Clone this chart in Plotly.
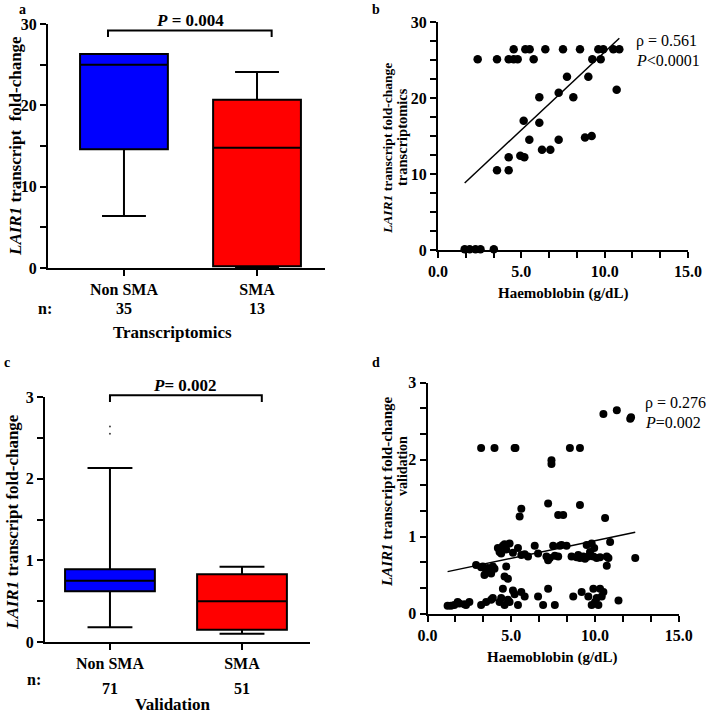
import plotly.graph_objects as go
import numpy as np

# ---------------- DATA ----------------
categories = ["Non SMA", "SMA"]

# Panel a: transcriptomics box summary
a_q1 = [14.6, 0.2]
a_median = [25.0, 14.8]
a_q3 = [26.3, 20.7]
a_lower = [6.4, 0.0]
a_upper = [26.3, 24.1]
a_n = ["35", "13"]
a_p_text = "<b><i>P</i> = 0.004</b>"

# Panel b: transcriptomics vs haemoglobin
b_hb = [4.54, 5.24, 5.5, 6.44, 7.5, 8.52, 9.62, 9.92, 10.52, 10.88,
        2.38, 3.54, 4.24, 4.54, 4.78, 5.74, 9.26, 9.76,
        7.74, 9.02, 7.24, 6.08, 8.12, 10.72, 5.14, 6.08, 5.48, 7.24,
        8.82, 9.22, 6.24, 6.74, 4.94, 5.18, 4.24, 3.54, 4.24,
        1.6, 1.9, 2.25, 2.55, 3.35]
b_fc = [26.4, 26.4, 26.4, 26.4, 26.4, 26.4, 26.4, 26.4, 26.4, 26.4,
        25.1, 25.1, 25.1, 25.1, 25.1, 25.1, 25.1, 25.1,
        22.8, 22.8, 20.7, 20.1, 20.1, 21.1, 17.0, 16.75, 14.5, 14.5,
        14.8, 15.0, 13.2, 13.2, 12.4, 12.2, 12.2, 10.5, 10.5,
        0.1, 0.1, 0.1, 0.1, 0.1]
b_fit_slope, b_fit_intercept = 2.051, 5.54
b_rho_text = "ρ = 0.561"
b_p_text = "<i>P</i><0.0001"

# Panel c: validation box summary
c_q1 = [0.62, 0.15]
c_median = [0.75, 0.50]
c_q3 = [0.89, 0.83]
c_lower = [0.18, 0.10]
c_upper = [2.13, 0.92]
c_outlier_y = [2.64, 2.55]
c_n = ["71", "51"]
c_p_text = "<b><i>P</i>= 0.002</b>"

# Panel d: validation vs haemoglobin
d_hb = [10.5, 11.3, 12.1, 12.15,
        3.2, 4.0, 5.2, 5.25, 8.5, 9.1,
        7.4, 7.4, 7.2, 9.1, 5.6, 5.5, 7.8, 8.1, 10.6,
        4.2, 4.5, 4.9, 4.4, 4.7, 5.4, 5.6, 6.0, 6.4, 7.1, 7.5, 7.8, 7.2, 8.0,
        4.3, 4.6, 5.1, 5.8, 6.6, 7.3, 7.6,
        2.9, 3.3, 3.6, 3.9, 3.4, 3.8, 4.7, 4.6, 3.5, 3.7, 4.8, 3.2, 4.0,
        1.2, 1.4, 1.6, 1.9, 2.3, 2.5, 2.2, 3.2, 3.5, 3.8, 4.3, 4.5, 4.6, 4.4,
        4.8, 5.1, 5.4, 5.6, 5.8, 6.6, 7.2, 6.9, 7.6, 4.9, 3.9, 1.8, 5.2,
        8.3, 7.9, 9.5, 9.8, 9.7, 9.9, 8.9, 9.1, 9.4, 10.1, 10.7, 10.8, 10.7,
        10.9, 9.3, 9.6, 9.0, 10.3, 12.4, 9.95, 8.6,
        8.7, 9.2, 9.6, 9.9, 10.3, 10.1, 10.5, 9.8, 10.2, 11.4, 10.0, 10.4]
d_fc = [2.59, 2.64, 2.53, 2.55,
        2.15, 2.15, 2.15, 2.15, 2.15, 2.15,
        1.99, 1.94, 1.43, 1.41, 1.36, 1.26, 1.28, 1.28, 1.24,
        0.85, 0.88, 0.91, 0.78, 0.83, 0.85, 0.76, 0.74, 0.88, 0.74, 0.88, 0.74, 0.69, 0.89,
        0.80, 0.90, 0.79, 0.77, 0.78, 0.72, 0.75,
        0.63, 0.61, 0.59, 0.61, 0.50, 0.52, 0.61, 0.48, 0.56, 0.54, 0.45, 0.60, 0.58,
        0.10, 0.10, 0.11, 0.13, 0.11, 0.15, 0.12, 0.11, 0.15, 0.18, 0.15, 0.32, 0.11, 0.20,
        0.18, 0.30, 0.11, 0.28, 0.22, 0.22, 0.32, 0.11, 0.11, 0.15, 0.20, 0.15, 0.25,
        0.88, 0.88, 0.89, 0.91, 0.80, 0.74, 0.73, 0.72, 0.71, 0.72, 0.74, 0.72, 0.62,
        0.93, 0.74, 0.74, 0.76, 0.73, 0.72, 0.85, 0.74,
        0.22, 0.28, 0.22, 0.32, 0.32, 0.20, 0.28, 0.11, 0.11, 0.17, 0.15, 0.22]
d_fit_slope, d_fit_intercept = 0.0457, 0.489
d_rho_text = "ρ = 0.276"
d_p_text = "<i>P</i>=0.002"

# axis ticks (major labels, minor subdivisions)
a_yticks, a_yminor = [0, 10, 20, 30], 2
b_xticks, b_xminor = [0, 5, 10, 15], 3
b_yticks, b_yminor = [0, 10, 20, 30], 4
c_yticks, c_yminor = [0, 1, 2, 3], 2
d_xticks, d_xminor = [0, 5, 10, 15], 3
d_yticks, d_yminor = [0, 1, 2, 3], 3

# ---------------- LAYOUT GEOMETRY (pixels) ----------------
W, H = 708, 713
SERIF = "Liberation Serif"
A = dict(x0=48, x1=325, y0=268, y1=24, xr=[-0.571, 1.511], yr=[0, 30])
B = dict(x0=438, x1=688, y0=250, y1=22, xr=[0, 15], yr=[0, 30])
C = dict(x0=45, x1=310, y0=642, y1=397, xr=[-0.492, 1.515], yr=[0, 3])
D = dict(x0=427.5, x1=678.8, y0=613.5, y1=382.5, xr=[0, 15], yr=[0, 3])


def fx(px):
    return px / W


def fy(py):
    return 1 - py / H


def dx(P, v):
    return fx(P["x0"] + (v - P["xr"][0]) / (P["xr"][1] - P["xr"][0]) * (P["x1"] - P["x0"]))


def dy(P, v):
    return fy(P["y0"] - (v - P["yr"][0]) / (P["yr"][1] - P["yr"][0]) * (P["y0"] - P["y1"]))


def ticks_with_minor(major, nsub, fmt):
    vals, texts = [], []
    for i, m in enumerate(major):
        vals.append(m)
        texts.append(fmt.format(m))
        if i + 1 < len(major):
            step = (major[i + 1] - m) / nsub
            for k in range(1, nsub):
                vals.append(m + k * step)
                texts.append("")
    return vals, texts


fig = go.Figure()
colors = ["#0000FF", "#FF0000"]

# Panel a boxes
for i, cat in enumerate(categories):
    fig.add_trace(go.Box(
        x=[cat], q1=[a_q1[i]], median=[a_median[i]], q3=[a_q3[i]],
        lowerfence=[a_lower[i]], upperfence=[a_upper[i]],
        fillcolor=colors[i], line=dict(color="black", width=2),
        width=0.66, whiskerwidth=0.5, boxpoints=False,
        xaxis="x", yaxis="y", showlegend=False, hoverinfo="skip"))

# Panel c boxes
for i, cat in enumerate(categories):
    fig.add_trace(go.Box(
        x=[cat], q1=[c_q1[i]], median=[c_median[i]], q3=[c_q3[i]],
        lowerfence=[c_lower[i]], upperfence=[c_upper[i]],
        fillcolor=colors[i], line=dict(color="black", width=2),
        width=0.68, whiskerwidth=0.5, boxpoints=False,
        xaxis="x3", yaxis="y3", showlegend=False, hoverinfo="skip"))
fig.add_trace(go.Scatter(
    x=[categories[0]] * len(c_outlier_y), y=c_outlier_y, mode="markers",
    marker=dict(size=2, color="#444"), xaxis="x3", yaxis="y3",
    showlegend=False, hoverinfo="skip"))

# Panel b scatter and fit
fig.add_trace(go.Scatter(x=b_hb, y=b_fc, mode="markers",
                         marker=dict(size=8.5, color="black"),
                         xaxis="x2", yaxis="y2", showlegend=False, cliponaxis=False))
bx = np.array([min(b_hb), max(b_hb)])
fig.add_trace(go.Scatter(x=bx, y=b_fit_slope * bx + b_fit_intercept, mode="lines",
                         line=dict(color="black", width=1.5),
                         xaxis="x2", yaxis="y2", showlegend=False))

# Panel d scatter and fit
fig.add_trace(go.Scatter(x=d_hb, y=d_fc, mode="markers",
                         marker=dict(size=8, color="black"),
                         xaxis="x4", yaxis="y4", showlegend=False, cliponaxis=False))
dxs = np.array([min(d_hb), max(d_hb)])
fig.add_trace(go.Scatter(x=dxs, y=d_fit_slope * dxs + d_fit_intercept, mode="lines",
                         line=dict(color="black", width=1.5),
                         xaxis="x4", yaxis="y4", showlegend=False))

tickfont = dict(family=SERIF, size=16, color="black", weight="bold")


def axis(P, horiz, **kw):
    if horiz:
        dom = [fx(P["x0"]), fx(P["x1"])]
        rng = P["xr"]
    else:
        dom = [fy(P["y0"]), fy(P["y1"])]
        rng = P["yr"]
    d = dict(domain=dom, range=rng, showline=True,
             linecolor="black", linewidth=2, ticks="outside", tickwidth=2,
             ticklen=6, tickcolor="black", tickfont=tickfont, showgrid=False,
             zeroline=False, fixedrange=True, automargin=False)
    d.update(kw)
    return d


def tv(major, nsub, fmt):
    vals, texts = ticks_with_minor(major, nsub, fmt)
    return dict(tickmode="array", tickvals=vals, ticktext=texts)


fig.update_layout(
    template="none",
    width=W, height=H, margin=dict(l=0, r=0, t=0, b=0, autoexpand=False),
    paper_bgcolor="white", plot_bgcolor="white",
    xaxis=axis(A, True, anchor="y", type="category", categoryorder="array",
               categoryarray=categories),
    yaxis=axis(A, False, anchor="x", **tv(a_yticks, a_yminor, "{:g}")),
    xaxis2=axis(B, True, anchor="y2", **tv(b_xticks, b_xminor, "{:.1f}")),
    yaxis2=axis(B, False, anchor="x2", **tv(b_yticks, b_yminor, "{:g}")),
    xaxis3=axis(C, True, anchor="y3", type="category", categoryorder="array",
                categoryarray=categories),
    yaxis3=axis(C, False, anchor="x3", **tv(c_yticks, c_yminor, "{:g}")),
    xaxis4=axis(D, True, anchor="y4", **tv(d_xticks, d_xminor, "{:.1f}")),
    yaxis4=axis(D, False, anchor="x4", **tv(d_yticks, d_yminor, "{:g}")),
)

ann = []


def text(px, py, s, size=15, xanchor="center", yanchor="middle", angle=0):
    ann.append(dict(x=fx(px), y=fy(py), xref="paper", yref="paper", text=s,
                    showarrow=False, xanchor=xanchor, yanchor=yanchor,
                    textangle=angle, font=dict(family=SERIF, size=size, color="black")))


# panel letters
text(22, 9, "<b>a</b>", 14)
text(376, 9, "<b>b</b>", 14)
text(7, 362, "<b>c</b>", 14)
text(376, 363, "<b>d</b>", 14)

# y titles
text(15, 146, "<b><i>LAIR1</i> transcript  fold-change</b>", 17, angle=-90)
text(387, 149, "<b><i>LAIR1</i> transcript fold-change</b>", 13.5, angle=-90)
text(402, 137, "<b>transcriptomics</b>", 14.5, angle=-90)
text(12, 522, "<b><i>LAIR1</i> transcript fold-change</b>", 17, angle=-90)
text(387, 492, "<b><i>LAIR1</i> transcript fold-change</b>", 15, angle=-90)
text(402, 466, "<b>validation</b>", 14, angle=-90)

# x titles
text(563, 293, "<b>Haemoblobin (g/dL)</b>", 15)
text(552, 657, "<b>Haemoblobin (g/dL)</b>", 15)

# n rows and group titles
text(45, 308, "<b>n:</b>", 16)
text(dx(A, 0) * W, 308, "<b>%s</b>" % a_n[0], 16)
text(dx(A, 1) * W, 308, "<b>%s</b>" % a_n[1], 16)
text(172, 332, "<b>Transcriptomics</b>", 17)
text(34, 679, "<b>n:</b>", 16)
text(dx(C, 0) * W, 688, "<b>%s</b>" % c_n[0], 16)
text(dx(C, 1) * W, 688, "<b>%s</b>" % c_n[1], 16)
text(173, 704, "<b>Validation</b>", 17)

# P-value texts
text(190, 20, a_p_text, 17)
text(185, 385, c_p_text, 17)
text(634, 41, b_rho_text, 16, xanchor="left")
text(634, 60, b_p_text, 16, xanchor="left")
text(643, 403, d_rho_text, 16, xanchor="left")
text(643, 422, d_p_text, 16, xanchor="left")

fig.update_layout(annotations=ann)

# brackets
shapes = []


def bracket(P, xl, xr, ytop, ybot):
    pts = [(xl, ybot), (xl, ytop), (xr, ytop), (xr, ybot)]
    path = "M " + " L ".join("%f,%f" % (dx(P, x), dy(P, y)) for x, y in pts)
    shapes.append(dict(type="path", path=path, xref="paper", yref="paper",
                       line=dict(color="black", width=2)))


bracket(A, -0.12, 1.11, 29.2, 28.4)
bracket(C, 0.0, 1.15, 3.02, 2.94)
fig.update_layout(shapes=shapes)

fig.write_html("out.html", config={"displayModeBar": False},
               post_script="document.body.style.margin='0';document.body.style.overflow='hidden';")
